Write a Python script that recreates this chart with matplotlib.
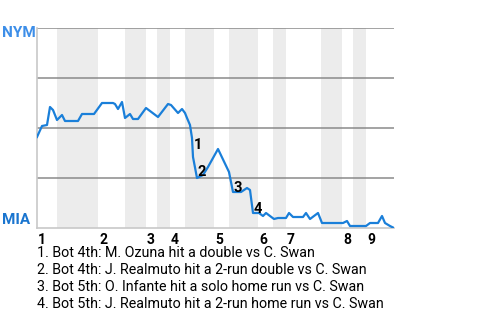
import numpy as np
import matplotlib
matplotlib.use('Agg')
import matplotlib.pyplot as plt

plt.rcParams['font.family'] = ['Roboto', 'DejaVu Sans']

# game progress (plate-appearance scale) and NYM win probability (%)
progress = [0, 5, 10, 13, 16, 20, 25, 28, 41, 45, 57, 65, 76, 78, 81, 85,
            88, 93, 96, 101, 109, 121, 131, 134, 141, 145, 148, 150, 153,
            155, 156, 160, 166, 171, 181, 192, 196, 204, 210, 213, 216, 222,
            226, 229, 237, 241, 249, 252, 256, 266, 269, 273, 281, 285, 306,
            310, 313, 329, 333, 341, 345, 348, 353, 357]
nym_wp = [45.5, 51, 51.5, 60.5, 59, 54, 56.5, 53.5, 53.5, 57, 57, 62.5, 62.5,
          62, 59.5, 63, 55, 57, 54.5, 54.5, 60, 55.5, 62, 61.5, 57.5, 59.5,
          57.5, 55, 51.5, 45, 35.5, 25, 26.5, 30.5, 39.5, 28, 18, 18, 20, 19,
          7.5, 7.5, 6, 7.5, 4.5, 5, 5, 7.5, 5.5, 5.5, 7.5, 4.5, 7.5, 2.5, 2.5,
          3.5, 1, 1, 2.5, 2.5, 6, 2.5, 1, 0]

# start of each inning (top half) and start of each bottom half
inning_start = [0, 61, 109, 133, 177, 221, 249, 305, 329]
bottom_start = [20, 88, 120, 148, 192, 236, 284, 316]
inning_labels = ['1', '2', '3', '4', '5', '6', '7', '8', '9']

# key events: label and where the number is drawn
event_num = ['1', '2', '3', '4']
event_x = [161, 165, 201, 221]
event_y = [41.5, 28, 20, 9.5]
event_text = [
    '1. Bot 4th: M. Ozuna hit a double vs C. Swan',
    '2. Bot 4th: J. Realmuto hit a 2-run double vs C. Swan',
    '3. Bot 5th: O. Infante hit a solo home run vs C. Swan',
    '4. Bot 5th: J. Realmuto hit a 2-run home run vs C. Swan',
]

W, H = 480, 320
fig = plt.figure(figsize=(4.8, 3.2), dpi=100)
ax = fig.add_axes([37 / W, 1 - 228 / H, 357 / W, 200 / H])
x_end = 357
ax.set_xlim(0, x_end)
ax.set_ylim(0, 100)

# shaded bottom halves
for i, b in enumerate(bottom_start):
    end = inning_start[i + 1]
    ax.axvspan(b, end, color='#ececec', lw=0, zorder=0)

for yv in [25, 50, 75, 100]:
    ax.axhline(yv, color='#8a8a8a', lw=1.1, zorder=1)

ax.plot(progress, nym_wp, color='#1a7fd9', lw=1.6, zorder=3,
        solid_joinstyle='round')

for n, x, y in zip(event_num, event_x, event_y):
    ax.text(x, y, n, fontsize=10.5, fontweight='bold', color='black',
            ha='center', va='center', zorder=4)

ax.set_xticks([])
ax.set_yticks([])
for s in ['top', 'right']:
    ax.spines[s].set_visible(False)
for s in ['left', 'bottom']:
    ax.spines[s].set_color('#c8c8c8')
    ax.spines[s].set_linewidth(1.2)

# team labels
fig.text(2 / W, 1 - 33 / H, 'NYM', fontsize=11, fontweight='bold',
         color='#3d8ee8', ha='left', va='center')
fig.text(2 / W, 1 - 220 / H, 'MIA', fontsize=11, fontweight='bold',
         color='#1a75cf', ha='left', va='center')

# inning numbers
for s, lab in zip(inning_start, inning_labels):
    ax.annotate(lab, xy=(s, 0), xycoords='data', xytext=(0.8, -9),
                textcoords='offset points', fontsize=10, fontweight='bold',
                ha='left', va='center', annotation_clip=False)

for i, t in enumerate(event_text):
    fig.text(37 / W, 1 - (253 + 17 * i) / H, t, fontsize=10.3,
             color='black', ha='left', va='center')

fig.savefig('out.png', dpi=100)
